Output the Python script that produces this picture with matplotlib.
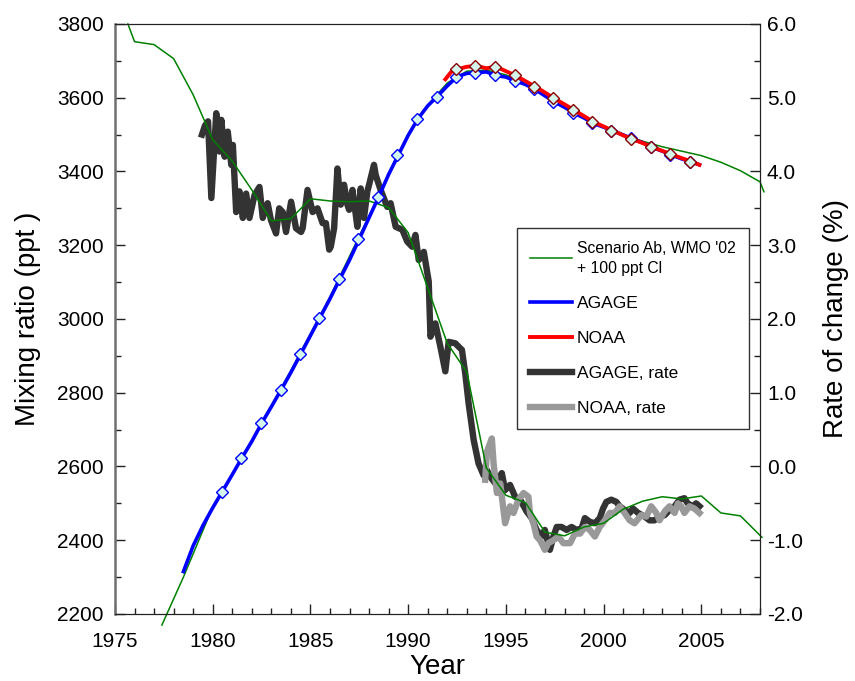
import matplotlib
matplotlib.use('Agg')
import matplotlib.pyplot as plt
from matplotlib.ticker import MultipleLocator, FormatStrFormatter

plt.rcParams.update({"font.family": "sans-serif", "font.sans-serif": ["Liberation Sans", "DejaVu Sans"]})

# --- scenario Ab, WMO '02 + 100 ppt Cl (left axis, ppt) ---
scen_yr = [1977.4, 1978.5, 1980, 1982, 1984, 1986, 1988, 1990, 1991, 1992, 1993, 1994, 1995, 1996,
           1997, 1998, 1999, 2000, 2001, 2002, 2003, 2004, 2005, 2006, 2007, 2008, 2008.2]
scen_ppt = [2170, 2300, 2490, 2670, 2860, 3060, 3280, 3500, 3580, 3640, 3672, 3675, 3662, 3640,
            3610, 3578, 3548, 3522, 3500, 3482, 3467, 3455, 3443, 3425, 3402, 3372, 3345]
# --- scenario rate (right axis, %) ---
scen_rate_yr = [1975.66, 1976, 1977, 1978, 1979, 1980, 1981, 1982, 1983, 1984, 1985, 1986, 1987, 1988,
                1989, 1990, 1991, 1992, 1993, 1994, 1995, 1996, 1997, 1998, 1999, 2000, 2001, 2002,
                2003, 2004, 2005, 2006, 2007, 2008.1]
scen_rate = [6.0, 5.76, 5.72, 5.53, 5.04, 4.43, 4.14, 3.75, 3.33, 3.36, 3.63, 3.60, 3.59, 3.60,
             3.51, 3.17, 2.42, 1.67, 1.28, -0.02, -0.39, -0.49, -0.89, -0.94, -0.82, -0.77, -0.58, -0.47,
             -0.41, -0.44, -0.40, -0.63, -0.67, -0.96]

# --- AGAGE mixing ratio ---
agage_yr = [1978.5, 1979.0, 1979.5, 1980.0, 1980.5, 1981.0, 1981.5, 1982.0, 1982.5, 1983.0, 1983.5,
            1984.0, 1984.5, 1985.0, 1985.5, 1986.0, 1986.5, 1987.0, 1987.5, 1988.0, 1988.5, 1989.0,
            1989.5, 1990.0, 1990.5, 1991.0, 1991.5, 1992.0, 1992.5, 1993.0, 1993.5, 1994.0, 1994.5,
            1995.0, 1995.5, 1996.0, 1996.5, 1997.0, 1997.5, 1998.0, 1998.5, 1999.0, 1999.5, 2000.0,
            2000.5, 2001.0, 2001.5, 2002.0, 2002.5, 2003.0, 2003.5, 2004.0, 2004.5, 2004.9]
agage_ppt = [2315, 2385, 2440, 2488, 2533, 2578, 2624, 2668, 2717, 2762, 2808,
             2855, 2905, 2955, 3005, 3055, 3108, 3160, 3217, 3275, 3332, 3392,
             3445, 3498, 3543, 3578, 3604, 3632, 3657, 3666, 3668, 3670, 3660,
             3656, 3645, 3636, 3622, 3605, 3588, 3574, 3558, 3545, 3530, 3520,
             3510, 3499, 3488, 3478, 3465, 3455, 3444, 3434, 3426, 3418]
agage_mk_yr = [1980.47, 1981.46, 1982.48, 1983.5, 1984.48, 1985.45, 1986.47, 1987.45, 1988.45,
               1989.44, 1990.46, 1991.48, 1992.45, 1993.44, 1994.43, 1995.45, 1996.45, 1997.43,
               1998.45, 1999.42, 2000.4, 2001.42, 2002.44, 2003.42, 2004.42]
agage_mk = [2532, 2624, 2717, 2807, 2905, 3003, 3108, 3217, 3330,
            3445, 3542, 3603, 3657, 3668, 3662, 3646, 3623, 3589,
            3559, 3531, 3511, 3490, 3466, 3445, 3427]

# --- NOAA mixing ratio ---
noaa_yr = [1991.9, 1992.2, 1992.5, 1993.0, 1993.5, 1994.0, 1994.5, 1995.0, 1995.5, 1996.0, 1996.5,
           1997.0, 1997.5, 1998.0, 1998.5, 1999.0, 1999.5, 2000.0, 2000.5, 2001.0, 2001.5, 2002.0,
           2002.5, 2003.0, 2003.5, 2004.0, 2004.5, 2004.9]
noaa_ppt = [3650, 3670, 3677, 3684, 3686, 3680, 3684, 3672, 3660, 3645, 3630,
            3614, 3597, 3582, 3566, 3550, 3534, 3522, 3510, 3498, 3487, 3477,
            3466, 3456, 3446, 3436, 3427, 3418]
noaa_mk_yr = [1992.45, 1993.44, 1994.43, 1995.45, 1996.45, 1997.43, 1998.45, 1999.42, 2000.4,
              2001.42, 2002.44, 2003.42, 2004.42]
noaa_mk = [3677, 3686, 3684, 3662, 3630, 3598, 3567, 3535, 3511, 3488, 3467, 3447, 3427]

# --- AGAGE rate of change (%) ---
agage_rate_yr = [1979.45, 1979.6, 1979.76, 1979.93, 1980.18, 1980.35, 1980.44, 1980.61, 1980.77, 1980.95,
                 1981.03, 1981.2, 1981.37, 1981.54, 1981.71, 1981.88, 1982.14, 1982.39, 1982.56, 1982.81,
                 1982.98, 1983.24, 1983.4, 1983.58, 1983.75, 1984.01, 1984.26, 1984.52, 1984.6, 1984.85,
                 1985.11, 1985.36, 1985.62, 1985.79, 1985.96, 1986.04, 1986.21, 1986.38, 1986.55, 1986.72,
                 1986.89, 1986.98, 1987.15, 1987.32, 1987.4, 1987.57, 1987.74, 1987.91, 1988.0, 1988.25,
                 1988.34, 1988.59, 1988.93, 1989.1, 1989.36, 1989.7, 1989.95, 1990.2, 1990.37, 1990.54,
                 1990.8, 1991.05, 1991.14, 1991.39, 1991.65, 1991.9, 1992.07, 1992.41, 1992.75, 1992.92,
                 1993.09, 1993.35, 1993.6, 1993.86, 1994.03, 1994.2, 1994.46, 1994.79, 1994.96, 1995.21,
                 1995.47, 1995.73, 1996.06, 1996.32, 1996.57, 1996.83, 1996.99, 1997.25, 1997.43, 1997.6,
                 1997.85, 1998.1, 1998.36, 1998.61, 1998.87, 1999.04, 1999.29, 1999.55, 1999.8, 1999.97,
                 2000.14, 2000.39, 2000.65, 2000.82, 2001.07, 2001.33, 2001.5, 2001.76, 2002.1, 2002.35,
                 2002.6, 2002.86, 2003.12, 2003.37, 2003.63, 2003.88, 2004.13, 2004.3, 2004.56, 2004.73,
                 2004.9]
agage_rate = [4.50, 4.62, 4.68, 3.64, 4.79, 4.27, 4.70, 4.20, 4.54, 4.09,
              4.36, 3.45, 3.73, 3.37, 3.70, 3.37, 3.68, 3.79, 3.37, 3.57,
              3.34, 3.16, 3.50, 3.45, 3.18, 3.59, 3.23, 3.18, 3.23, 3.75,
              3.45, 3.50, 3.30, 3.30, 2.94, 2.98, 3.23, 4.04, 3.55, 3.82,
              3.55, 3.48, 3.75, 3.41, 3.25, 3.77, 3.37, 3.73, 3.82, 4.09,
              3.95, 3.75, 3.52, 3.57, 3.25, 3.21, 3.05, 2.98, 3.14, 2.80,
              2.91, 2.51, 1.76, 1.94, 1.62, 1.29, 1.69, 1.67, 1.58, 1.26,
              0.86, 0.36, 0.04, -0.12, -0.05, -0.14, -0.23, -0.09, -0.32, -0.25,
              -0.41, -0.45, -0.61, -0.70, -0.86, -0.95, -0.86, -1.13, -0.95, -0.82,
              -0.82, -0.86, -0.82, -0.86, -0.84, -0.70, -0.75, -0.77, -0.70, -0.57,
              -0.48, -0.45, -0.48, -0.54, -0.59, -0.63, -0.57, -0.63, -0.68, -0.73,
              -0.73, -0.68, -0.66, -0.59, -0.54, -0.45, -0.43, -0.50, -0.54, -0.50,
              -0.54]

# --- NOAA rate of change (%) ---
noaa_rate_yr = [1993.94, 1994.03, 1994.28, 1994.37, 1994.54, 1994.71, 1994.96, 1995.21, 1995.39, 1995.64,
                1995.9, 1996.15, 1996.23, 1996.41, 1996.57, 1996.75, 1996.99, 1997.17, 1997.43, 1997.68,
                1997.94, 1998.28, 1998.53, 1998.79, 1999.04, 1999.29, 1999.55, 1999.8, 2000.06, 2000.31,
                2000.57, 2000.82, 2001.07, 2001.33, 2001.58, 2001.92, 2002.18, 2002.43, 2002.69, 2002.86,
                2003.12, 2003.37, 2003.63, 2003.8, 2003.97, 2004.13, 2004.39, 2004.64, 2004.9]
noaa_rate = [-0.18, 0.20, 0.38, 0.04, -0.36, -0.23, -0.77, -0.54, -0.63, -0.45,
             -0.36, -0.41, -0.63, -0.77, -0.95, -1.00, -1.13, -1.04, -1.00, -0.95,
             -1.04, -1.04, -0.91, -0.91, -0.82, -0.86, -0.95, -0.82, -0.73, -0.63,
             -0.63, -0.54, -0.63, -0.73, -0.77, -0.66, -0.68, -0.54, -0.63, -0.73,
             -0.61, -0.54, -0.63, -0.50, -0.54, -0.63, -0.54, -0.57, -0.63]

fig = plt.figure(figsize=(8.55, 6.81), dpi=100)
ax = fig.add_axes([0.1345, 0.0984, 0.7544, 0.8664])
ax2 = ax.twinx()
ax.set_xlim(1975, 2008)
ax.set_ylim(2200, 3800)
ax2.set_ylim(-2.0, 6.0)

# rates drawn in ax using ax2's scale so the layering matches the original
l_ar, = ax.plot(agage_rate_yr, agage_rate, color='#333333', lw=4.6, transform=ax2.transData,
                zorder=2, label='AGAGE, rate')
l_nr, = ax.plot(noaa_rate_yr, noaa_rate, color='#999999', lw=4.6, transform=ax2.transData,
                zorder=2.1, label='NOAA, rate')
l_sc, = ax.plot(scen_yr, scen_ppt, color='#008000', lw=1.1, clip_on=False, zorder=2.2,
                label="Scenario Ab, WMO '02\n+ 100 ppt Cl")
ax.plot(scen_rate_yr, scen_rate, color='#008000', lw=1.1, clip_on=False, transform=ax2.transData,
        zorder=2.2)
l_ag, = ax.plot(agage_yr, agage_ppt, color='#0000ff', lw=2.6, zorder=3, label='AGAGE')
ax.plot(agage_mk_yr, agage_mk, ls='none', marker='D', ms=6.5, mfc='#d4f5ec', mec='#0000ff', mew=1.0,
        zorder=3.1)
l_no, = ax.plot(noaa_yr, noaa_ppt, color='#ff0000', lw=2.8, zorder=3.2, label='NOAA')
ax.plot(noaa_mk_yr, noaa_mk, ls='none', marker='D', ms=6.5, mfc='#d4f5ec', mec='#8b0000', mew=1.0,
        zorder=3.3)

# axes styling
for s in ['top', 'bottom', 'right']:
    ax.spines[s].set_color('#222222')
    ax2.spines[s].set_color('#222222')
ax.spines['left'].set_color('#707070')
ax.spines['left'].set_linewidth(1.8)
ax2.spines['left'].set_visible(False)

ax.xaxis.set_major_locator(MultipleLocator(5))
ax.xaxis.set_minor_locator(MultipleLocator(1))
ax.yaxis.set_major_locator(MultipleLocator(200))
ax.yaxis.set_minor_locator(MultipleLocator(100))
ax2.yaxis.set_major_locator(MultipleLocator(1.0))
ax2.yaxis.set_minor_locator(MultipleLocator(0.5))
ax2.yaxis.set_major_formatter(FormatStrFormatter('%.1f'))

ax.tick_params(axis='both', which='major', direction='in', length=7, width=1.0, labelsize=15, color='#222222')
ax.tick_params(axis='both', which='minor', direction='in', length=4.5, width=1.0, color='#222222')
ax.tick_params(axis='x', which='major', pad=13)
ax.tick_params(axis='y', which='major', pad=8)
ax.tick_params(top=False, which='both')
ax2.tick_params(axis='y', which='major', direction='in', length=7, width=1.0, labelsize=15, pad=5, color='#222222')
ax2.tick_params(axis='y', which='minor', direction='in', length=4.5, width=1.0, color='#222222')

ax.set_xlabel('Year', fontsize=20)
ax.xaxis.label.set_verticalalignment('baseline')
ax.set_ylabel('Mixing ratio (ppt )', fontsize=20)
ax2.set_ylabel('Rate of change (%)', fontsize=20)
ax.xaxis.set_label_coords(0.5, -0.1017)
ax.yaxis.set_label_coords(-0.115, 0.5)
ax2.yaxis.set_label_coords(1.098, 0.5)

leg = ax.legend(handles=[l_sc, l_ag, l_no, l_ar, l_nr], loc='upper left',
                bbox_to_anchor=(517 / 855, 1 - 228 / 681), bbox_transform=fig.transFigure,
                fontsize=12.5, frameon=True, fancybox=False, edgecolor='#333333', framealpha=1,
                handlelength=2.4, handletextpad=0.3, labelspacing=1.15, borderpad=0.75,
                borderaxespad=0)
leg.get_frame().set_linewidth(1.0)
leg.get_texts()[0].set_fontsize(11.3)
leg.get_texts()[0].set_linespacing(1.4)
leg.set_zorder(5)

fig.savefig('out.png', dpi=100, facecolor='white')
